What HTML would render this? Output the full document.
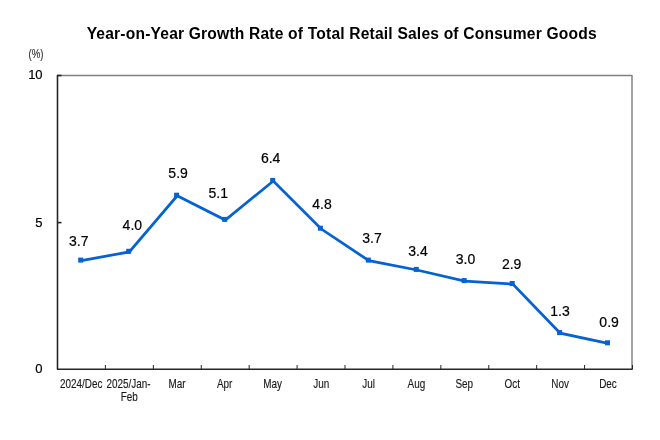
<!DOCTYPE html>
<html><head><meta charset="utf-8"><style>
html,body{margin:0;padding:0;background:#fff;}
body{width:660px;height:440px;overflow:hidden;}
svg{display:block;will-change:transform;font-family:"Liberation Sans",sans-serif;}
</style></head><body>
<svg width="660" height="440" viewBox="0 0 660 440">
<rect width="660" height="440" fill="#fff"/>
<text x="341.7" y="38.7" text-anchor="middle" font-weight="bold" font-size="15.6" letter-spacing="0.19" fill="#000">Year-on-Year Growth Rate of Total Retail Sales of Consumer Goods</text>
<g fill="none" stroke="#808080" stroke-width="1.5">
<line x1="57" y1="75.5" x2="632" y2="75.5"/>
<line x1="632" y1="75" x2="632" y2="369"/>
</g>
<g fill="none" stroke="#262626" stroke-width="1.6">
<line x1="57.5" y1="75" x2="57.5" y2="369.5"/>
<line x1="57" y1="369.2" x2="632.7" y2="369.2"/>
<line x1="57.5" y1="222.6" x2="61.5" y2="222.6"/>
<line x1="57" y1="75.5" x2="61.5" y2="75.5"/>
</g>
<g fill="none" stroke="#262626" stroke-width="1"><line x1="105.42" y1="369" x2="105.42" y2="365"/><line x1="153.33" y1="369" x2="153.33" y2="365"/><line x1="201.25" y1="369" x2="201.25" y2="365"/><line x1="249.17" y1="369" x2="249.17" y2="365"/><line x1="297.08" y1="369" x2="297.08" y2="365"/><line x1="345.00" y1="369" x2="345.00" y2="365"/><line x1="392.92" y1="369" x2="392.92" y2="365"/><line x1="440.83" y1="369" x2="440.83" y2="365"/><line x1="488.75" y1="369" x2="488.75" y2="365"/><line x1="536.67" y1="369" x2="536.67" y2="365"/><line x1="584.58" y1="369" x2="584.58" y2="365"/><line x1="632.50" y1="369" x2="632.50" y2="365"/></g>
<g font-size="13" fill="#000" stroke="#000" stroke-width="0.2" text-anchor="end">
<text x="42.6" y="79.3">10</text>
<text x="42.6" y="226.6">5</text>
<text x="42.6" y="373.3">0</text>
</g>
<g transform="translate(36,58.2) scale(0.8,1)"><text x="0" y="0" font-size="12" text-anchor="middle" fill="#333" stroke="#333" stroke-width="0.15">(%)</text></g>
<polyline points="81.30,260.70 129.30,251.90 177.20,195.80 225.30,220.00 273.30,181.00 321.00,228.80 368.90,260.70 416.90,270.00 464.80,281.20 512.80,284.10 560.20,333.20 608.10,343.40" fill="none" stroke="#0562d2" stroke-width="2.75" stroke-linejoin="miter"/>
<g fill="#0562d2"><rect x="78.20" y="257.60" width="5" height="5"/><rect x="126.20" y="248.80" width="5" height="5"/><rect x="174.10" y="192.70" width="5" height="5"/><rect x="222.20" y="216.90" width="5" height="5"/><rect x="270.20" y="177.90" width="5" height="5"/><rect x="317.90" y="225.70" width="5" height="5"/><rect x="365.80" y="257.60" width="5" height="5"/><rect x="413.80" y="266.90" width="5" height="5"/><rect x="461.70" y="278.10" width="5" height="5"/><rect x="509.70" y="281.00" width="5" height="5"/><rect x="557.10" y="330.10" width="5" height="5"/><rect x="605.00" y="340.30" width="5" height="5"/></g>
<g font-size="14" fill="#000" stroke="#000" stroke-width="0.2" text-anchor="middle"><text x="78.80" y="245.80">3.7</text><text x="132.35" y="230.10">4.0</text><text x="178.10" y="177.50">5.9</text><text x="218.30" y="198.20">5.1</text><text x="270.65" y="163.00">6.4</text><text x="321.95" y="208.90">4.8</text><text x="372.05" y="242.70">3.7</text><text x="418.00" y="255.70">3.4</text><text x="465.45" y="264.30">3.0</text><text x="511.65" y="268.80">2.9</text><text x="560.05" y="316.40">1.3</text><text x="609.10" y="326.60">0.9</text></g>
<g font-size="13.6" fill="#1a1a1a" stroke="#1a1a1a" stroke-width="0.15" text-anchor="middle">
<g transform="translate(81.25,387.6) scale(0.73,1)"><text x="0" y="0">2024/Dec</text></g><g transform="translate(128.50,387.6) scale(0.73,1)"><text x="0" y="0">2025/Jan-</text></g><g transform="translate(177.00,387.6) scale(0.73,1)"><text x="0" y="0">Mar</text></g><g transform="translate(224.70,387.6) scale(0.73,1)"><text x="0" y="0">Apr</text></g><g transform="translate(272.60,387.6) scale(0.73,1)"><text x="0" y="0">May</text></g><g transform="translate(321.20,387.6) scale(0.73,1)"><text x="0" y="0">Jun</text></g><g transform="translate(368.50,387.6) scale(0.73,1)"><text x="0" y="0">Jul</text></g><g transform="translate(416.40,387.6) scale(0.73,1)"><text x="0" y="0">Aug</text></g><g transform="translate(464.30,387.6) scale(0.73,1)"><text x="0" y="0">Sep</text></g><g transform="translate(512.20,387.6) scale(0.73,1)"><text x="0" y="0">Oct</text></g><g transform="translate(560.10,387.6) scale(0.73,1)"><text x="0" y="0">Nov</text></g><g transform="translate(608.00,387.6) scale(0.73,1)"><text x="0" y="0">Dec</text></g><g transform="translate(129.25,401.4) scale(0.73,1)"><text x="0" y="0">Feb</text></g></g>
</svg>
</body></html>
